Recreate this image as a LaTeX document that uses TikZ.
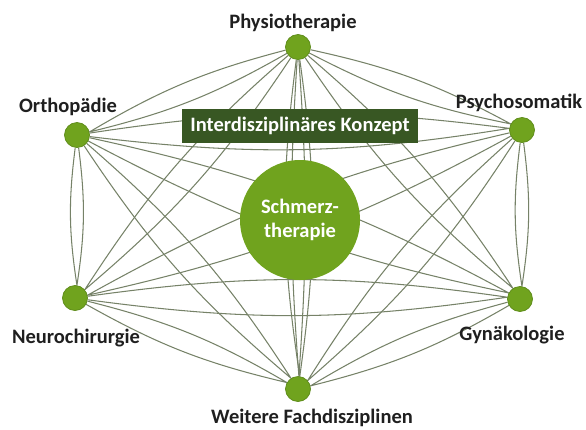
\documentclass[tikz,border=0pt]{standalone}
\usepackage{fontspec}
\setmainfont{Carlito}
\usepackage{xcolor}
\usepackage{tikz}
\usetikzlibrary{backgrounds}

\definecolor{discgreen}{RGB}{112,163,30}
\definecolor{discedge}{RGB}{92,138,24}
\definecolor{boxgreen}{RGB}{56,87,35}
\definecolor{linkgray}{RGB}{118,130,104}

\begin{document}
\begin{tikzpicture}[
    x=0.3mm, y=-0.3mm,
    disc/.style={circle, fill=discgreen, draw=discedge, line width=0.6pt, minimum size=7.5mm, inner sep=0pt},
    hub/.style={circle, fill=discgreen, minimum size=36mm, inner sep=0pt, align=center, text=white, font=\fontsize{17.5}{21}\selectfont\bfseries},
    concept/.style={rectangle, fill=boxgreen, minimum width=71mm, minimum height=10.2mm, inner sep=0pt, text=white, font=\fontsize{17.5}{21}\selectfont\bfseries},
    tag/.style={anchor=base, inner sep=0pt, text=black!88, font=\fontsize{17.5}{21}\selectfont\bfseries},
    link/.style={draw=linkgray, line width=0.9pt}
]

\useasboundingbox (0,0) rectangle (586,429);

% Disciplines
\node[disc] (physio) at (298,47) {};
\node[disc] (ortho) at (77,135) {};
\node[disc] (psycho) at (522,130) {};
\node[disc] (neuro) at (75,298) {};
\node[disc] (gyn) at (520,299) {};
\node[disc] (weitere) at (298,389) {};

% Labels
\node[tag] (physio_txt) at (293,28) {Physiotherapie};
\node[tag] (ortho_txt) at (68,112) {Orthopädie};
\node[tag] (psycho_txt) at (519,108) {Psychosomatik};
\node[tag] (neuro_txt) at (76,343) {Neurochirurgie};
\node[tag] (gyn_txt) at (512,340) {Gynäkologie};
\node[tag] (weitere_txt) at (312,423) {Weitere Fachdisziplinen};

% Centre
\node[hub] (schmerz) at (300,220) {Schmerz-\\therapie};
\node[concept] (konzept) at (300,126) {Interdisziplinäres Konzept};

% Connections
\begin{scope}[on background layer]
\draw[link] (physio) to[bend left=8] (ortho) to[bend left=8] (physio);
\draw[link] (physio) to[bend left=8] (psycho) to[bend left=8] (physio);
\draw[link] (physio) to[bend left=8] (neuro) to[bend left=8] (physio);
\draw[link] (physio) to[bend left=8] (gyn) to[bend left=8] (physio);
\draw[link] (physio) to[bend left=8] (weitere) to[bend left=8] (physio);
\draw[link] (physio) to[bend left=4] (weitere) to[bend left=4] (physio);
\draw[link] (ortho) to[bend left=8] (psycho) to[bend left=8] (ortho);
\draw[link] (ortho) to[bend left=8] (neuro) to[bend left=8] (ortho);
\draw[link] (ortho) to[bend left=8] (gyn) to[bend left=8] (ortho);
\draw[link] (ortho) to[bend left=8] (weitere) to[bend left=8] (ortho);
\draw[link] (psycho) to[bend left=8] (neuro) to[bend left=8] (psycho);
\draw[link] (psycho) to[bend left=8] (gyn) to[bend left=8] (psycho);
\draw[link] (psycho) to[bend left=8] (weitere) to[bend left=8] (psycho);
\draw[link] (neuro) to[bend left=8] (gyn) to[bend left=8] (neuro);
\draw[link] (neuro) to[bend left=8] (weitere) to[bend left=8] (neuro);
\draw[link] (gyn) to[bend left=8] (weitere) to[bend left=8] (gyn);
\end{scope}

\end{tikzpicture}
\end{document}
